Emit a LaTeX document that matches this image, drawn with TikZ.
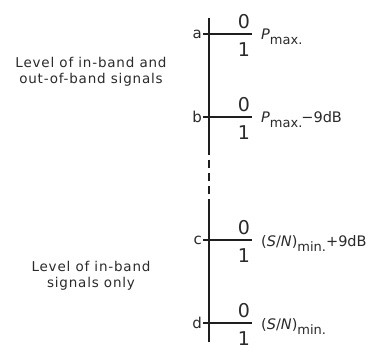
\documentclass[tikz,border=0pt]{standalone}
\usepackage{fontspec}
\setmainfont{DejaVu Sans}
\newfontfamily\spacedFont[LetterSpace=6]{DejaVu Sans}
\usepackage{xcolor}
\definecolor{scanInk}{HTML}{1E1E1E}
\definecolor{scanText}{HTML}{2A2A2A}
\usepackage{tikz}
\usetikzlibrary{positioning}
\tikzset{
  %% -- Lines ---------------------------------------------------------------
  %% The level axis is the heavy stroke; the ticks are a little lighter.
  levelAxis/.style    = {draw=scanInk, line width=2pt},
  levelAxisCut/.style = {levelAxis, dash pattern=on 8pt off 5pt},
  levelTick/.style    = {draw=scanInk, line width=1.4pt},
  %%
  %% -- Text ----------------------------------------------------------------
  levelLetter/.style  = {font=\fontsize{15}{17}\selectfont, text=scanText,
                         inner sep=1pt, anchor=east},
  levelDigit/.style   = {font=\fontsize{19}{21}\selectfont, text=scanText,
                         inner sep=0pt},
  levelValue/.style   = {font=\fontsize{14.5}{16}\selectfont, text=scanText,
                         inner sep=0pt, anchor=base west},
  levelNote/.style    = {font=\spacedFont\fontsize{13.5}{16}\selectfont,
                         text=scanText, align=center, inner sep=0pt},
}
\newcommand{\lowSub}[1]{\raisebox{-5pt}{\fontsize{13}{14}\selectfont #1}}

\begin{document}
\begin{tikzpicture}[x=1pt, y=-1pt]
\useasboundingbox (0,0) rectangle (390,355);

\coordinate (axisTop) at (209,18);
\coordinate (cutTop) at (209,147);
\coordinate (cutBot) at (209,207);
\coordinate (axisBot) at (209,342);

\draw[levelAxis] (axisTop) -- (cutTop);
\draw[levelAxisCut] (cutTop) -- (cutBot);
\draw[levelAxis] (cutBot) -- (axisBot);

\foreach \nom/\yy/\texte in {
    a/34/{\textit{P}\lowSub{max.}},
    b/117/{\textit{P}\lowSub{max.}\kern-1pt−9dB},
    c/240/{(\textit{S}/\textit{N})\lowSub{min.}+9dB},
    d/323/{(\textit{S}/\textit{N})\lowSub{min.}}}{
  \node[levelLetter] (\nom) at (203,\yy) {\nom};
  \coordinate (\nom-end) at (252,\yy);
  \draw[levelTick] (\nom.east) -- (\nom-end);
  \node[levelDigit] (\nom-zero) at (244,\yy-12) {0};
  \node[levelDigit] (\nom-one) at (244,\yy+16) {1};
  \node[levelValue] (\nom-val) at (261,\yy+6) {\texte};
}

\node[levelNote] (bothBands) at (91,72)
     {Level of in-band and\\out-of-band signals};
\node[levelNote] (inBand) at (91,276)
     {Level of in-band\\signals only};

\end{tikzpicture}
\end{document}
